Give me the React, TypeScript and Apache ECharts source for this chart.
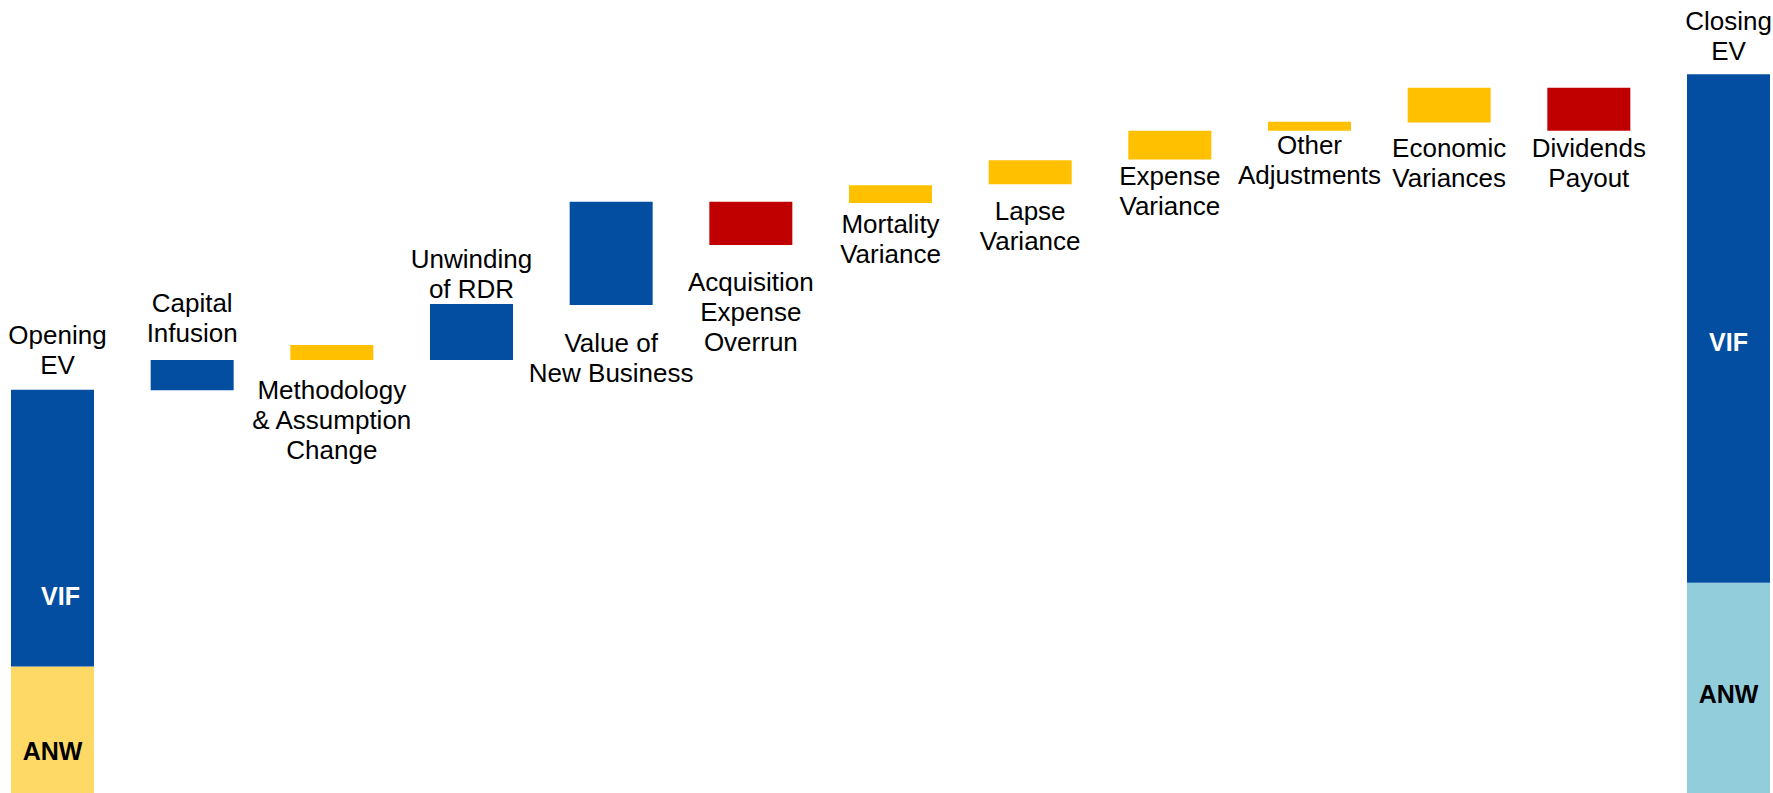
import React, { useEffect, useRef } from 'react';
import * as echarts from 'echarts';

// ---- data (arbitrary units) ----
const categories = [
  'Opening\nEV',
  'Capital\nInfusion',
  'Methodology\n& Assumption\nChange',
  'Unwinding\nof RDR',
  'Value of\nNew Business',
  'Acquisition\nExpense\nOverrun',
  'Mortality\nVariance',
  'Lapse\nVariance',
  'Expense\nVariance',
  'Other\nAdjustments',
  'Economic\nVariances',
  'Dividends\nPayout',
  'Closing\nEV',
];
const anwValues = [31.9, 0, 0, 0, 0, 0, 0, 0, 0, 0, 0, 0, 53.0];
const vifValues = [69.8, 0, 0, 0, 0, 0, 0, 0, 0, 0, 0, 0, 128.3];
const moveStarts = [0, 101.6, 109.2, 109.2, 123.1, 149.1, 148.8, 153.5, 159.8, 167.0, 169.1, 177.9, 0];
const moveChanges = [0, 7.6, 3.8, 14.1, 26.0, -10.9, 4.5, 6.1, 7.2, 2.3, 8.8, -10.9, 0];
const moveKinds = ['total', 'capital', 'assumption', 'capital', 'capital', 'outflow', 'variance', 'variance', 'variance', 'variance', 'variance', 'outflow', 'total'];

// ---- styles ----
const FONT = '"Liberation Sans", Arial, sans-serif';
const kindColors: Record<string, string> = {
  total: 'transparent',
  capital: '#044EA2',
  assumption: '#FFC000',
  variance: '#FFC000',
  outflow: '#C00000',
};
const labelSides = ['top', 'top', 'bottom', 'top', 'bottom', 'bottom', 'bottom', 'bottom', 'bottom', 'bottom', 'bottom', 'bottom', 'top'];
const labelGaps = [10, 12, 15, 0, 23, 22, 6, 12, 2, -1, 10, 2, 8];
const labelShiftX = [5, 0, 0, 0, 0, 0, 0, 0, 0, 0, 0, 0, 0];
const anwColors = ['#FFD966', '#92CDDC'];

export default function App() {
  const ref = useRef<HTMLDivElement>(null);
  useEffect(() => {
    if (!ref.current) return;
    const chart = echarts.init(ref.current, undefined, { renderer: 'svg' });
    const last = categories.length - 1;
    const baseData = moveStarts.map((s, i) => s + Math.min(0, moveChanges[i]));
    const anwData = anwValues.map((v, i) => {
      if (i !== 0 && i !== last) return v;
      return {
        value: v,
        itemStyle: { color: anwColors[i === 0 ? 0 : 1] },
        label: {
          show: true,
          position: 'inside',
          offset: i === 0 ? [0, 21] : [0, 6],
          formatter: 'ANW',
          color: '#000',
          fontWeight: 'bold',
          fontSize: 25,
          fontFamily: FONT,
        },
      };
    });
    const vifData = vifValues.map((v, i) => {
      if (i !== 0 && i !== last) return v;
      return {
        value: v,
        label: {
          show: true,
          position: 'inside',
          offset: i === 0 ? [8, 68] : [0, 13],
          formatter: 'VIF',
          color: '#fff',
          fontWeight: 'bold',
          fontSize: 25,
          fontFamily: FONT,
        },
      };
    });
    const moveData = moveChanges.map((c, i) => ({
      value: Math.abs(c),
      itemStyle: { color: kindColors[moveKinds[i]] },
      label: {
        show: true,
        position: labelSides[i],
        distance: labelGaps[i],
        offset: [labelShiftX[i], 0],
        formatter: '{b}',
        color: '#000',
        fontSize: 26,
        lineHeight: 30,
        fontFamily: FONT,
        align: 'center',
      },
    }));

    chart.setOption({
      animation: false,
      backgroundColor: '#fff',
      grid: { left: 52.5, right: 44.5, top: 0, bottom: 0, containLabel: false },
      xAxis: {
        type: 'category',
        data: categories,
        boundaryGap: false,
        show: false,
      },
      yAxis: { type: 'value', min: 0, max: 200, show: false },
      series: [
        {
          name: 'base',
          type: 'bar',
          stack: 'total',
          barWidth: 83,
          clip: false,
          itemStyle: { color: 'transparent' },
          silent: true,
          data: baseData,
        },
        {
          name: 'ANW',
          type: 'bar',
          stack: 'total',
          barWidth: 83,
          clip: false,
          itemStyle: { color: '#FFD966' },
          data: anwData,
        },
        {
          name: 'VIF',
          type: 'bar',
          stack: 'total',
          barWidth: 83,
          clip: false,
          itemStyle: { color: '#044EA2' },
          data: vifData,
        },
        {
          name: 'movement',
          type: 'bar',
          stack: 'total',
          barWidth: 83,
          clip: false,
          data: moveData,
        },
      ],
    });
    return () => chart.dispose();
  }, []);
  return (
    <div
      ref={ref}
      style={{ position: 'absolute', left: 0, top: 0, width: 1773, height: 793 }}
    />
  );
}
